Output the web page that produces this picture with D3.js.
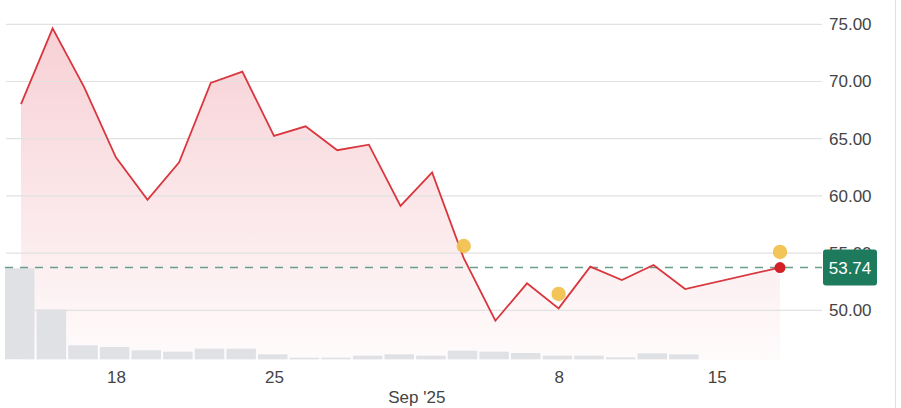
<!DOCTYPE html>
<html>
<head>
<meta charset="utf-8">
<script src="https://cdn.jsdelivr.net/npm/d3@7/dist/d3.min.js"></script>
<style>
  html, body { margin: 0; padding: 0; background: #fff; }
  svg { display: block; font-family: "Liberation Sans", Arial, Helvetica, sans-serif; }
</style>
</head>
<body>
<svg id="chart" width="901" height="408"></svg>
<script>
// ---- data ----
const dates = ["2025-08-13","2025-08-14","2025-08-15","2025-08-18","2025-08-19","2025-08-20","2025-08-21","2025-08-22",
  "2025-08-25","2025-08-26","2025-08-27","2025-08-28","2025-08-29","2025-09-02","2025-09-03","2025-09-04","2025-09-05",
  "2025-09-08","2025-09-09","2025-09-10","2025-09-11","2025-09-12","2025-09-15","2025-09-16","2025-09-17"];
const closes = [68.03, 74.65, 69.49, 63.37, 59.65, 62.94, 69.87, 70.86, 65.24, 66.08, 63.99, 64.48, 59.12,
  62.06, 54.55, 49.09, 52.36, 50.17, 53.81, 52.65, 53.96, 51.86, null, null, 53.74];
const volumes = [9.1, 5.0, 1.4, 1.23, 0.9, 0.76, 1.06, 1.06, 0.5, 0.16, 0.17, 0.36, 0.5, 0.36, 0.86, 0.76,
  0.63, 0.36, 0.36, 0.2, 0.6, 0.5];
const eventIdx = [14, 17, 24];
const eventVal = [55.62, 51.43, 55.1];
const yTicks = [50, 55, 60, 65, 70, 75];
const xTickIdx = [3, 8, 12.5, 17, 22];
const xTickLabels = ["18", "25", "Sep '25", "8", "15"];
const lastPrice = 53.74;

// ---- layout ----
const svg = d3.select("#chart");
const x = d3.scaleLinear().domain([0, dates.length - 1]).range([21, 780]);
const y = d3.scaleLinear().domain([50, 75]).range([310.3, 24.3]);
const vol = d3.scaleLinear().domain([0, 10]).range([0, 100]);
const volBase = 359.3;
const gridX0 = 6, gridX1 = 822;

const pts = closes.map((c, i) => ({ i, c })).filter(d => d.c !== null);

// gradient
const defs = svg.append("defs");
const grad = defs.append("linearGradient").attr("id", "areaGrad")
  .attr("gradientUnits", "userSpaceOnUse").attr("x1", 0).attr("x2", 0).attr("y1", 24).attr("y2", 360);
grad.append("stop").attr("offset", "0%").attr("stop-color", "#e0485a").attr("stop-opacity", 0.26);
grad.append("stop").attr("offset", "100%").attr("stop-color", "#e0485a").attr("stop-opacity", 0.02);

// area
const area = d3.area().x(d => x(d.i)).y0(360).y1(d => y(d.c));
svg.append("path").datum(pts).attr("d", area).attr("fill", "url(#areaGrad)");

// volume bars
svg.append("g").selectAll("rect").data(volumes).join("rect")
  .attr("x", (d, i) => x(i) - 16)
  .attr("width", 29.5)
  .attr("y", d => volBase - vol(d))
  .attr("height", d => vol(d))
  .attr("fill", "#dfe1e5");

// gridlines
svg.append("g").selectAll("line").data(yTicks).join("line")
  .attr("x1", gridX0).attr("x2", gridX1)
  .attr("y1", d => y(d)).attr("y2", d => y(d))
  .attr("stroke", "#e2e2e2").attr("stroke-width", 1.2);

// y axis labels
const yAxis = d3.axisRight(y).tickValues(yTicks).tickFormat(d3.format(".2f")).tickSize(0).tickPadding(7);
const yg = svg.append("g").attr("transform", `translate(${gridX1},0)`).call(yAxis);
yg.select(".domain").remove();
yg.selectAll("text").attr("font-size", 17).attr("fill", "#444").attr("font-family", "Liberation Sans, Arial, sans-serif");

// x axis labels
const xAxis = d3.axisBottom(x).tickValues(xTickIdx).tickFormat((d, i) => xTickLabels[i]).tickSize(0).tickPadding(0);
const xg = svg.append("g").attr("transform", "translate(0,370)").call(xAxis);
xg.select(".domain").remove();
xg.selectAll("text").attr("font-size", 17).attr("fill", "#444").attr("font-family", "Liberation Sans, Arial, sans-serif")
  .attr("dy", (d, i) => xTickLabels[i].startsWith("Sep") ? "1.95em" : "0.75em");

// dashed last price line
svg.append("line").attr("x1", 5).attr("x2", gridX1)
  .attr("y1", y(lastPrice)).attr("y2", y(lastPrice))
  .attr("stroke", "#6a9e8c").attr("stroke-width", 1.6).attr("stroke-dasharray", "8,7");

// price line
const line = d3.line().x(d => x(d.i)).y(d => y(d.c));
svg.append("path").datum(pts).attr("d", line)
  .attr("fill", "none").attr("stroke", "#d9363e").attr("stroke-width", 1.8).attr("stroke-linejoin", "miter");

// event markers
svg.append("g").selectAll("circle").data(eventIdx).join("circle")
  .attr("cx", d => x(d)).attr("cy", (d, i) => y(eventVal[i])).attr("r", 7.2)
  .attr("fill", "#f2c14e").attr("opacity", 0.95);

// last point
svg.append("circle").attr("cx", x(dates.length - 1)).attr("cy", y(lastPrice)).attr("r", 5.5).attr("fill", "#d42027");

// price label box
const ly = y(lastPrice);
svg.append("rect").attr("x", 823).attr("y", ly - 18).attr("width", 54).attr("height", 36).attr("rx", 3)
  .attr("fill", "#1d7a5d");
svg.append("text").attr("x", 850).attr("y", ly).attr("dy", "0.36em").attr("text-anchor", "middle")
  .attr("font-size", 17).attr("fill", "#fff").attr("font-weight", 500).text(lastPrice.toFixed(2));

// right border
svg.append("line").attr("x1", 895.5).attr("x2", 895.5).attr("y1", 0).attr("y2", 408)
  .attr("stroke", "#e0e0e0").attr("stroke-width", 1);
</script>
</body>
</html>
